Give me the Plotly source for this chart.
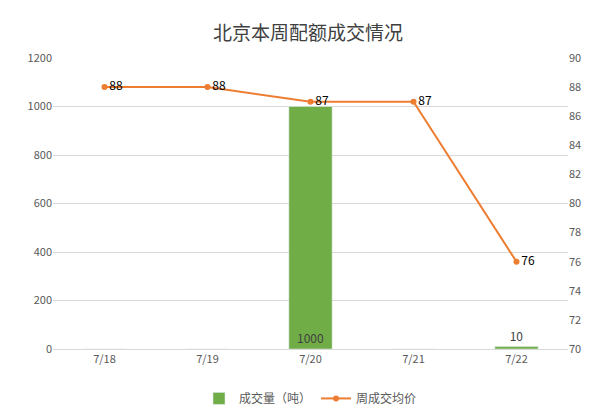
import plotly.graph_objects as go

dates = ["7/18", "7/19", "7/20", "7/21", "7/22"]
volume = [0, 0, 1000, 0, 10]
price = [88, 88, 87, 87, 76]
vol_labels = ["", "", "1000", "", "10"]

fig = go.Figure()
fig.add_trace(go.Bar(x=dates, y=volume, name="成交量（吨）", marker_color="#70AD47",
                     width=0.42, text=vol_labels, textposition=["none", "none", "inside", "none", "outside"],
                     insidetextanchor="start", textangle=0,
                     textfont=dict(size=12, color="#404040"), cliponaxis=False))
fig.add_trace(go.Scatter(x=dates, y=price, name="周成交均价", yaxis="y2", mode="lines+markers+text",
                         line=dict(color="#ED7D31", width=2), marker=dict(size=6, color="#ED7D31"),
                         text=[str(p) for p in price], textposition="middle right",
                         textfont=dict(size=12, color="#000000")))

fig.update_layout(
    width=600, height=417, plot_bgcolor="white", paper_bgcolor="white",
    font=dict(family="Noto Sans CJK SC", color="#595959", size=12),
    title=dict(text="北京本周配额成交情况", x=0.5, y=0.955, font=dict(size=19, color="#404040")),
    margin=dict(l=45, r=40, t=50, b=65),
    xaxis=dict(showline=True, linecolor="#D9D9D9", tickfont=dict(size=11)),
    yaxis=dict(range=[0, 1200], dtick=200, gridcolor="#D9D9D9", zeroline=False, tickfont=dict(size=11)),
    yaxis2=dict(range=[70, 90], dtick=2, overlaying="y", side="right", showgrid=False, tickfont=dict(size=11)),
    legend=dict(orientation="h", x=0.5, xanchor="center", y=-0.12, font=dict(size=12)),
)
fig.write_html("out.html")
